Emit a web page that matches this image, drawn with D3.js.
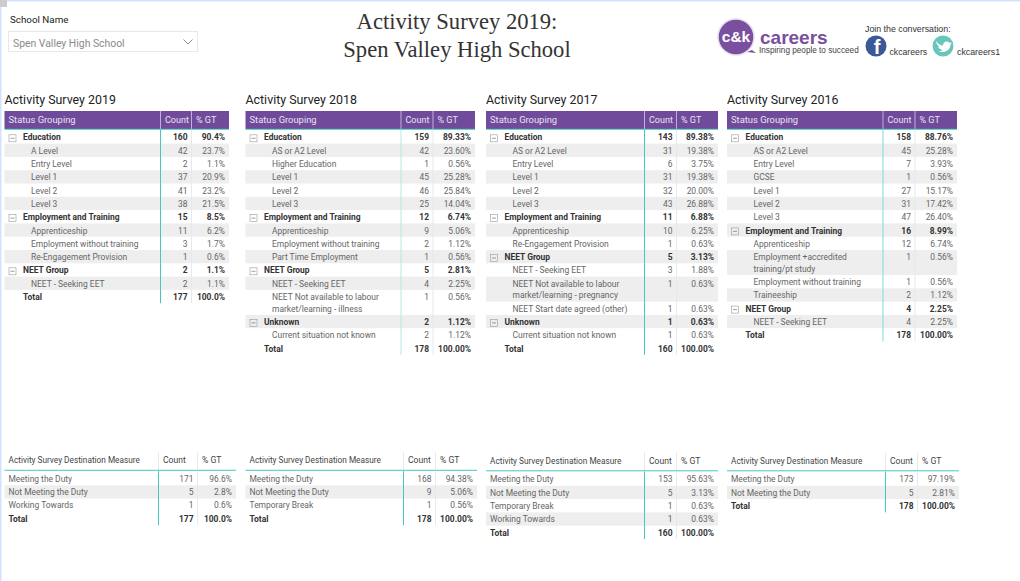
<!DOCTYPE html>
<html><head><meta charset="utf-8">
<script src="https://cdn.jsdelivr.net/npm/d3@7"></script>
<style>html,body{margin:0;padding:0;background:#fff;overflow:hidden}svg{display:block}text{font-family:Roboto,"Open Sans",sans-serif}</style>
</head><body><div id="c"></div>
<script>
// ---- data ----
const pageTitle = ["Activity Survey 2019:", "Spen Valley High School"];
const slicerLabel = "School Name", slicerValue = "Spen Valley High School";
const groupNames = ["Education", "Employment and Training", "NEET Group", "Unknown"];
const statusHeader = ["Status Grouping", "Count", "% GT"];
const measureHeader = ["Activity Survey Destination Measure", "Count", "% GT"];

const labels2019 = ["Education","A Level","Entry Level","Level 1","Level 2","Level 3","Employment and Training","Apprenticeship","Employment without training","Re-Engagement Provision","NEET Group","NEET - Seeking EET","Total"];
const counts2019 = [160,42,2,37,41,38,15,11,3,1,2,2,177];
const pcts2019 = ["90.4%","23.7%","1.1%","20.9%","23.2%","21.5%","8.5%","6.2%","1.7%","0.6%","1.1%","1.1%","100.0%"];

const labels2018 = ["Education","AS or A2 Level","Higher Education","Level 1","Level 2","Level 3","Employment and Training","Apprenticeship","Employment without training","Part Time Employment","NEET Group","NEET - Seeking EET","NEET Not available to labour\nmarket/learning - illness","Unknown","Current situation not known","Total"];
const counts2018 = [159,42,1,45,46,25,12,9,2,1,5,4,1,2,2,178];
const pcts2018 = ["89.33%","23.60%","0.56%","25.28%","25.84%","14.04%","6.74%","5.06%","1.12%","0.56%","2.81%","2.25%","0.56%","1.12%","1.12%","100.00%"];

const labels2017 = ["Education","AS or A2 Level","Entry Level","Level 1","Level 2","Level 3","Employment and Training","Apprenticeship","Re-Engagement Provision","NEET Group","NEET - Seeking EET","NEET Not available to labour\nmarket/learning - pregnancy","NEET Start date agreed (other)","Unknown","Current situation not known","Total"];
const counts2017 = [143,31,6,31,32,43,11,10,1,5,3,1,1,1,1,160];
const pcts2017 = ["89.38%","19.38%","3.75%","19.38%","20.00%","26.88%","6.88%","6.25%","0.63%","3.13%","1.88%","0.63%","0.63%","0.63%","0.63%","100.00%"];

const labels2016 = ["Education","AS or A2 Level","Entry Level","GCSE","Level 1","Level 2","Level 3","Employment and Training","Apprenticeship","Employment +accredited\ntraining/pt study","Employment without training","Traineeship","NEET Group","NEET - Seeking EET","Total"];
const counts2016 = [158,45,7,1,27,31,47,16,12,1,1,2,4,4,178];
const pcts2016 = ["88.76%","25.28%","3.93%","0.56%","15.17%","17.42%","26.40%","8.99%","6.74%","0.56%","0.56%","1.12%","2.25%","2.25%","100.00%"];

const measures2019 = ["Meeting the Duty","Not Meeting the Duty","Working Towards","Total"];
const mCounts2019 = [171,5,1,177];
const mPcts2019 = ["96.6%","2.8%","0.6%","100.0%"];
const measures2018 = ["Meeting the Duty","Not Meeting the Duty","Temporary Break","Total"];
const mCounts2018 = [168,9,1,178];
const mPcts2018 = ["94.38%","5.06%","0.56%","100.00%"];
const measures2017 = ["Meeting the Duty","Not Meeting the Duty","Temporary Break","Working Towards","Total"];
const mCounts2017 = [153,5,1,1,160];
const mPcts2017 = ["95.63%","3.13%","0.63%","0.63%","100.00%"];
const measures2016 = ["Meeting the Duty","Not Meeting the Duty","Total"];
const mCounts2016 = [173,5,178];
const mPcts2016 = ["97.19%","2.81%","100.00%"];

// ---- layout ----
const W = 1020, H = 581;
const FS = 8.45, PURPLE = "#714b9b", TEAL = "#45c9bd", GREY = "#eeeeee", LINE = "#e6e6e6";
const svg = d3.select("#c").append("svg").attr("width", W).attr("height", H).attr("viewBox", [0,0,W,H]);

svg.append("rect").attr("width",W).attr("height",1.5).attr("fill","#cfe2ff");
svg.append("rect").attr("width",1.5).attr("height",H).attr("fill","#cfe2ff");
svg.append("rect").attr("width",7).attr("height",7).attr("fill","#cccccc");

svg.selectAll("text.title").data(pageTitle).join("text").attr("class","title")
  .attr("x",457).attr("y",(d,i)=>28.5+i*28.5).attr("text-anchor","middle")
  .style("font-family","'Liberation Serif',serif").style("font-size","22.6px").attr("fill","#333")
  .text(d=>d);

svg.append("text").attr("x",10).attr("y",23).style("font-size","9.8px").attr("fill","#222").text(slicerLabel);
svg.append("rect").attr("x",8.5).attr("y",31.5).attr("width",189).attr("height",20).attr("fill","#fff").attr("stroke","#e8e8e8");
svg.append("text").attr("x",13).attr("y",46.5).style("font-size","10.4px").attr("fill","#8a8a8a").text(slicerValue);
svg.append("path").attr("d",d3.line()([[183.5,39.5],[188,44],[192.5,39.5]])).attr("fill","none").attr("stroke","#777").attr("stroke-width",0.8);

// logo
const logo = svg.append("g");
logo.append("path").attr("d","M752 50 L756 53 L747 52 Z").attr("fill","#7a4fa0");
logo.append("circle").attr("cx",736).attr("cy",37).attr("r",18).attr("fill","#7a4fa0").attr("stroke","#e4e0ea").attr("stroke-width",1.5);
logo.append("text").attr("x",736).attr("y",42).attr("text-anchor","middle").style("font-family","'Liberation Sans',sans-serif").style("font-weight","bold").style("font-size","15.5px").attr("fill","#fff").text("c&k");
logo.append("text").attr("x",760).attr("y",43.5).style("font-family","'Liberation Sans',sans-serif").style("font-weight","bold").style("font-size","19px").attr("fill","#7a4fa0").text("careers");
const sans = "'Liberation Sans',sans-serif";
[["Inspiring people to succeed",759,53,8.2,"#444"],["Join the conversation:",865,31.5,8.8,"#333"],["ckcareers",889.5,55,8.7,"#333"],["ckcareers1",957,55,8.8,"#333"]].forEach(t=>{
  logo.append("text").attr("x",t[1]).attr("y",t[2]).style("font-family",sans).style("font-size",t[3]+"px").attr("fill",t[4]).text(t[0]);
});
logo.append("circle").attr("cx",876).attr("cy",46).attr("r",10.5).attr("fill","#3b5998");
logo.append("text").attr("x",877).attr("y",54).attr("text-anchor","middle").style("font-family",sans).style("font-weight","bold").style("font-size","20px").attr("fill","#fff").text("f");
logo.append("circle").attr("cx",943).attr("cy",46).attr("r",10.5).attr("fill","#68c6bd");
logo.append("path").attr("d","M936 41 C938 44 941 45.5 943 45.5 C943 41.5 947.5 40 950 43 L952 42.5 L950.5 44.5 C950.5 50 945 53.5 938 51.5 C940 51.5 941.5 51 942.5 50 C940 49.5 938.5 48 938 46.5 L939.5 46.5 C937.5 45.5 936 43.5 936 41 Z").attr("fill","#fff");

function drawTable(g, cfg){
  const {x0,c1,c2,x1,headY,headH,rowTop,labels,counts,pcts,header,isMatrix,c1Color} = cfg;
  // row units: a wrapped label is taller than a single line
  const units = labels.map(l => l.includes("\n") ? 1.88 : 1);
  const cum = d3.cumsum([0,...units]);
  const y = d3.scaleLinear().domain([0,1]).range([rowTop, rowTop+13.3]);
  const xC = d3.scaleLinear().domain([0,1,2,3]).range([x0,c1,c2,x1]);
  const bottom = y(cum[cum.length-1]);
  const rows = labels.map((l,i)=>({l,i,c:counts[i],p:pcts[i],y0:y(cum[i]),y1:y(cum[i+1]),
     total:l==="Total",group:isMatrix&&groupNames.includes(l)}));

  g.selectAll("rect.stripe").data(rows.filter(r=>r.i%2===1&&!r.total)).join("rect").attr("class","stripe")
    .attr("x",xC(0)).attr("width",xC(3)-xC(0)).attr("y",r=>r.y0).attr("height",r=>r.y1-r.y0).attr("fill",GREY);

  if(isMatrix){
    g.append("rect").attr("x",xC(0)).attr("y",headY).attr("width",xC(3)-xC(0)).attr("height",headH).attr("fill",PURPLE);
  }
  // column rules
  g.append("line").attr("x1",xC(2)).attr("x2",xC(2)).attr("y1",rowTop).attr("y2",bottom).attr("stroke",LINE).attr("stroke-width",0.9);
  g.append("line").attr("x1",xC(1)).attr("x2",xC(1)).attr("y1",rowTop-1).attr("y2",bottom).attr("stroke",c1Color).attr("stroke-width",1);
  [1,2].forEach(k=>g.append("line").attr("x1",xC(k)).attr("x2",xC(k)).attr("y1",headY).attr("y2",headY+headH)
     .attr("stroke",isMatrix?"#cbbbdd":LINE).attr("stroke-width",0.9));
  g.append("line").attr("x1",xC(0)).attr("x2",xC(3)).attr("y1",headY+headH+0.3).attr("y2",headY+headH+0.3).attr("stroke",TEAL).attr("stroke-width",1);

  // header
  const hc = isMatrix?"#e9e2f1":"#444", hfs = isMatrix?9.4:8.25, hfs2 = isMatrix?9.0:8.6;
  const hy = headY+headH/2+(isMatrix?2.6:2.4);
  g.append("text").attr("x",xC(0)+4).attr("y",hy).style("font-size",hfs+"px").attr("fill",hc).text(header[0]);
  g.append("text").attr("x",xC(1)+4.5).attr("y",hy).style("font-size",hfs2+"px").attr("fill",hc).text(header[1]);
  g.append("text").attr("x",xC(2)+4.5).attr("y",hy).style("font-size",hfs2+"px").attr("fill",hc).text(header[2]);

  // rows
  const row = g.selectAll("g.row").data(rows).join("g").attr("class","row");
  row.each(function(r){
    const s = d3.select(this);
    const bold = r.group||r.total, col = bold?"#333":"#666", by = r.y0+(isMatrix?10.1:9.8), fw = bold?"700":"400";
    const lx = xC(0) + (isMatrix ? (bold?18.5:26.5) : 4);
    r.l.split("\n").forEach((t,k)=>s.append("text").attr("x",lx).attr("y",by+k*11.7).style("font-size",FS+"px").style("font-weight",fw).attr("fill",col).text(t));
    s.append("text").attr("x",xC(2)-4).attr("y",by).attr("text-anchor","end").style("font-size",FS+"px").style("font-weight",fw).attr("fill",col).text(r.c);
    s.append("text").attr("x",xC(3)-4).attr("y",by).attr("text-anchor","end").style("font-size",FS+"px").style("font-weight",fw).attr("fill",col).text(r.p);
    if(r.group){
      const bx = xC(0)+4.5, byy = r.y0+4.5;
      s.append("rect").attr("x",bx).attr("y",byy).attr("width",7).attr("height",7).attr("fill","none").attr("stroke","#999").attr("stroke-width",0.6);
      s.append("line").attr("x1",bx+1.5).attr("x2",bx+5.5).attr("y1",byy+3.5).attr("y2",byy+3.5).attr("stroke","#777").attr("stroke-width",0.7);
    }
  });
}

const topTables = [
 {title:"Activity Survey 2019",x0:4.5,c1:160.5,c2:191.5,x1:229,labels:labels2019,counts:counts2019,pcts:pcts2019,c1Color:TEAL},
 {title:"Activity Survey 2018",x0:245.5,c1:401,c2:433,x1:475,labels:labels2018,counts:counts2018,pcts:pcts2018,c1Color:"#b4e8e3"},
 {title:"Activity Survey 2017",x0:486,c1:644.5,c2:676.5,x1:718,labels:labels2017,counts:counts2017,pcts:pcts2017,c1Color:TEAL},
 {title:"Activity Survey 2016",x0:727,c1:883,c2:915,x1:957,labels:labels2016,counts:counts2016,pcts:pcts2016,c1Color:"#7fdad2"}
];
topTables.forEach(t=>{
  const g = svg.append("g");
  g.append("text").attr("x",t.x0).attr("y",104).style("font-size","12.4px").attr("fill","#222").text(t.title);
  drawTable(g,{...t,headY:111,headH:18,rowTop:130.3,header:statusHeader,isMatrix:true});
});
const bottomTables = [
 {x0:4.5,c1:158.5,c2:197.5,x1:236,labels:measures2019,counts:mCounts2019,pcts:mPcts2019,headY:452,rowTop:472},
 {x0:245.5,c1:403.5,c2:435.5,x1:477,labels:measures2018,counts:mCounts2018,pcts:mPcts2018,headY:452,rowTop:472},
 {x0:486,c1:644.5,c2:676.5,x1:718,labels:measures2017,counts:mCounts2017,pcts:mPcts2017,headY:452.5,rowTop:472.5},
 {x0:727,c1:885.5,c2:917.5,x1:959,labels:measures2016,counts:mCounts2016,pcts:mPcts2016,headY:452.5,rowTop:472.5}
];
bottomTables.forEach(t=>{
  drawTable(svg.append("g"),{...t,headH:18,header:measureHeader,isMatrix:false,c1Color:TEAL});
});
</script></body></html>
